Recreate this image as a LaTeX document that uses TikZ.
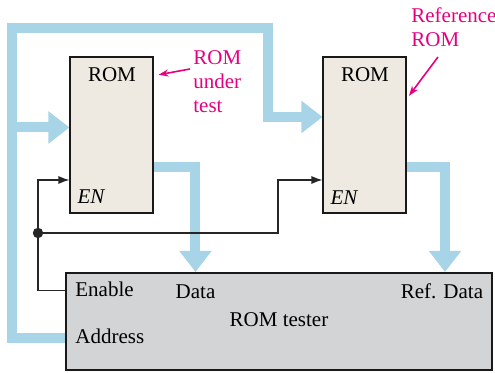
\documentclass[tikz,border=0pt]{standalone}
\usepackage{fontspec}
\setmainfont{Liberation Serif}
\usetikzlibrary{arrows.meta, positioning, calc, backgrounds}

\definecolor{busblue}{RGB}{168,212,232}
\definecolor{romfill}{RGB}{238,234,225}
\definecolor{testerfill}{RGB}{211,212,214}
\definecolor{notepink}{RGB}{230,0,126}

\begin{document}
\begin{tikzpicture}[
    x=0.5pt, y=-0.5pt,
    lbl/.style={font=\fontsize{10.5}{12}\selectfont, inner sep=0pt},
    rom/.style={rectangle, draw=black!90, line width=1pt, fill=romfill, minimum width=41.5pt, minimum height=78pt, inner sep=0pt},
    testbox/.style={rectangle, draw=black!90, line width=1pt, fill=testerfill, minimum width=213pt, minimum height=48.5pt, inner sep=0pt},
    bus/.style={draw=busblue, line width=5pt, -{Triangle[length=10.5pt, width=15.5pt]}},
    ctrl/.style={draw=black!85, line width=0.6pt, -{Latex[length=5.5pt, width=4pt]}},
    note/.style={lbl, text=notepink, align=left},
    pointer/.style={draw=notepink, line width=0.8pt, -{Stealth[length=5pt, width=3.5pt]}}
]
    \useasboundingbox (0,0) rectangle (495,373);

    % blocks
    \node[rom] (rom1) at (112,134.8) {};
    \node[rom, right=84pt of rom1] (rom2) {};
    \node[testbox] (tester) at (279,321.5) {};

    \node[lbl, below=5.5pt of rom1.north] (rom1lbl) {ROM};
    \node[lbl, below=5.5pt of rom2.north] (rom2lbl) {ROM};
    \node[lbl, anchor=base west] (en1) at ($(rom1.south west)+(7.7,-10)$) {\textit{EN}};
    \node[lbl, anchor=base west] (en2) at ($(rom2.south west)+(7.7,-9)$) {\textit{EN}};

    \node[lbl, anchor=base west] (enable) at ($(tester.north west)+(10,25)$) {Enable};
    \node[lbl, anchor=base west] (address) at ($(tester.north west)+(10,72)$) {Address};
    \node[lbl, anchor=base] (data) at (195.5,299) {Data};
    \node[lbl, anchor=base] (refdata) at (442,299) {Ref. Data};
    \node[lbl, anchor=base] (testerlbl) at (279,327) {ROM tester};

    % notes
    \node[note, anchor=base west] (underNote) at (193,113) {ROM\\under\\test};
    \node[note, anchor=base west] (refNote) at (411,47) {Reference\\ROM};
    \coordinate (underTail) at (190,69);
    \coordinate (refTail) at (438,57);
    \draw[pointer] (underTail) -- ($(rom1.north east)+(4,19)$);
    \draw[pointer] (refTail) -- ($(rom2.north east)+(1.5,40)$);

    % buses
    \coordinate (addrTop) at (12,28);
    \coordinate (addr1) at (12,127.5);
    \coordinate (addr2) at (268,117);
    \coordinate (data1) at (195.5,167);
    \coordinate (data2) at (445,167);
    \begin{scope}[on background layer]
        \draw[bus] ($(tester.west)+(0,16.5)$) -| (addrTop) -| (addr2) -- (addr2 -| rom2.west);
        \draw[bus] (addr1) -- (addr1 -| rom1.west);
        \draw[bus] (data1 -| rom1.east) -- (data1) -- (data1 |- tester.north);
        \draw[bus] (data2 -| rom2.east) -- (data2) -- (data2 |- tester.north);
    \end{scope}

    % enable lines
    \coordinate (enL) at (38,180);
    \coordinate (jct) at (38,233);
    \coordinate (enR) at (278,180);
    \draw[ctrl] ($(tester.west)+(0,-30.8)$) -| (enL) -- (enL -| rom1.west);
    \draw[ctrl] (jct) -| (enR) -- (enR -| rom2.west);
    \fill[black!85] (jct) circle (2.6pt);
\end{tikzpicture}
\end{document}
